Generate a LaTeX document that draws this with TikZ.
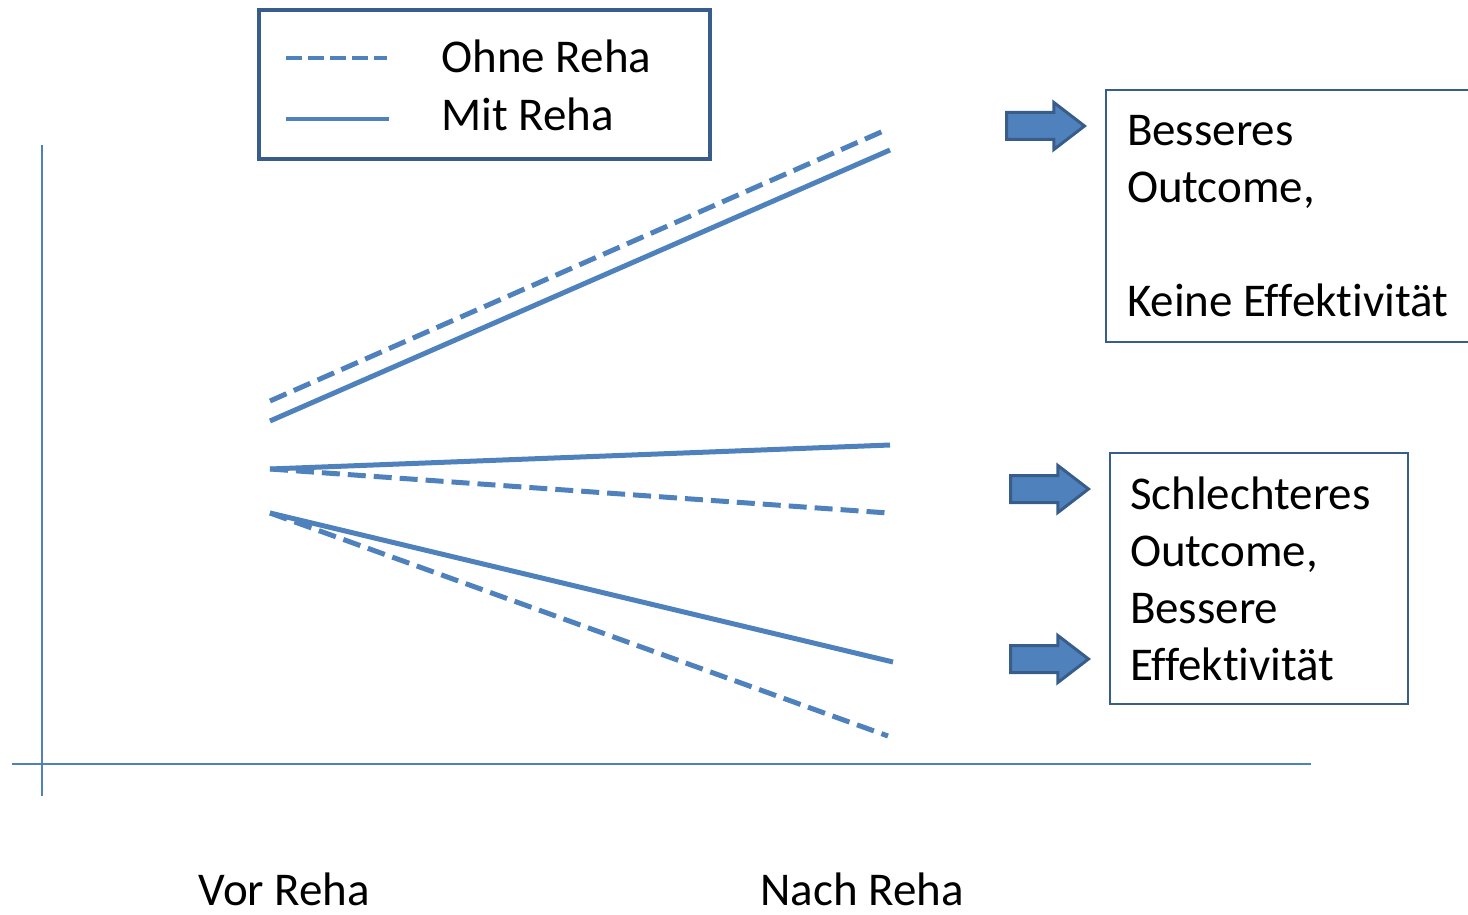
\documentclass[tikz,border=0pt]{standalone}
\usepackage{fontspec}
\setmainfont{Carlito}[Ligatures=NoCommon]
\usetikzlibrary{shapes.arrows}
\definecolor{rehablue}{RGB}{79,129,189}
\definecolor{rehadark}{RGB}{56,93,138}
\begin{document}
\begin{tikzpicture}[x=0.5pt, y=-0.5pt,
    trend/.style={rehablue, line width=2.5pt},
    ohne/.style={trend, dash pattern=on 9pt off 4pt},
    txt/.style={font=\fontsize{23.5}{28.5}\selectfont, inner sep=0},
    resbox/.style={txt, draw=rehadark, line width=1pt, align=flush left, anchor=north west, inner ysep=0},
    blockarrow/.style={single arrow, fill=rehablue, draw=rehadark, line width=1.5pt,
      minimum height=39pt, inner xsep=0, inner ysep=6pt, single arrow head extend=5pt,
      single arrow tip angle=75, anchor=tail}]
      \useasboundingbox (0,0) rectangle (1468,915);
      % AXES
      \draw[rehablue, line width=1pt] (42,145) -- (42,796);
      \draw[rehablue, line width=1pt] (12,764) -- (1311,764);
      % LEGEND
      \node[draw=rehadark, line width=2pt, minimum width=225.5pt, minimum height=74.5pt,
        anchor=north west, inner sep=0] (legende) at (257,8) {};
      \coordinate (lo1) at (286,58);  \coordinate (lo2) at (387,58);
      \coordinate (lm1) at (286,119); \coordinate (lm2) at (389,119);
      \draw[rehablue, line width=2pt, dash pattern=on 8pt off 3pt] (lo1) -- (lo2);
      \draw[rehablue, line width=2pt] (lm1) -- (lm2);
      \node[txt, anchor=base west] (ohnetxt) at (441,73) {Ohne Reha};
      \node[txt, anchor=base west] (mittxt) at (441,131) {Mit Reha};
      % TREND LINES
      % -- before
      \coordinate (vor1) at (270,401);
      \coordinate (vor2) at (270,421);
      \coordinate (vor3) at (270,469);
      \coordinate (vor4) at (270,513);
      % -- after
      \coordinate (nach1) at (888,129);
      \coordinate (nach2) at (890,150);
      \coordinate (nach3) at (890,445);
      \coordinate (nach4) at (888,513);
      \coordinate (nach5) at (893,662);
      \coordinate (nach6) at (888,736);
      % -- lines
      \draw[ohne] (vor1) -- (nach1);
      \draw[trend] (vor2) -- (nach2);
      \draw[trend] (vor3) -- (nach3);
      \draw[ohne] (vor3) -- (nach4);
      \draw[trend] (vor4) -- (nach5);
      \draw[ohne] (vor4) -- (nach6);
      % RESULTS
      % -- arrows
      \node[blockarrow] (pfeil1) at (1005,126) {};
      \node[blockarrow] (pfeil2) at (1009,489) {};
      \node[blockarrow] (pfeil3) at (1009,659) {};
      % -- boxes
      \node[resbox, minimum width=200pt, minimum height=126pt, text width=179pt, inner xsep=10.5pt]
        (besser) at (1105,89) {Besseres\\Outcome,\\[28.5pt]Keine Effektivität};
      \node[resbox, minimum width=149pt, minimum height=125.5pt, text width=129pt, inner xsep=10pt]
        (schlechter) at (1109,452) {Schlechteres\\Outcome,\\Bessere\\Effektivität};
      % X LABELS
      \node[txt, anchor=base west] (vor) at (198,905) {Vor Reha};
      \node[txt, anchor=base west] (nach) at (760,905) {Nach Reha};
    \end{tikzpicture}
\end{document}
